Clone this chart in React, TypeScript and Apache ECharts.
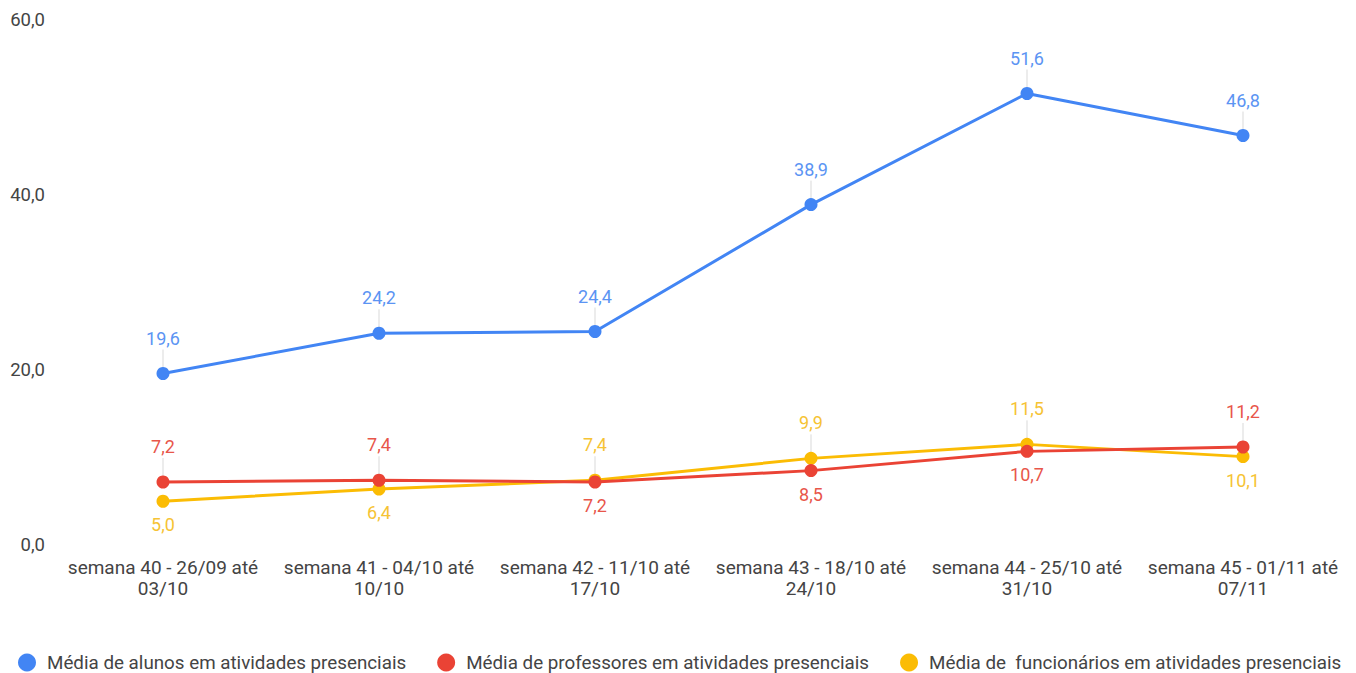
import React, { useEffect, useRef } from "react";
import * as echarts from "echarts";

const categories = [
  "semana 40 - 26/09 até\n03/10",
  "semana 41 - 04/10 até\n10/10",
  "semana 42 - 11/10 até\n17/10",
  "semana 43 - 18/10 até\n24/10",
  "semana 44 - 25/10 até\n31/10",
  "semana 45 - 01/11 até\n07/11",
];
const alunos = [19.6, 24.2, 24.4, 38.9, 51.6, 46.8];
const professores = [7.2, 7.4, 7.2, 8.5, 10.7, 11.2];
const funcionarios = [5.0, 6.4, 7.4, 9.9, 11.5, 10.1];
const alunosPos = ["top", "top", "top", "top", "top", "top"];
const professoresPos = ["top", "top", "bottom", "bottom", "bottom", "top"];
const funcionariosPos = ["bottom", "bottom", "top", "top", "top", "bottom"];
const seriesNames = [
  "Média de alunos em atividades presenciais",
  "Média de professores em atividades presenciais",
  "Média de  funcionários em atividades presenciais",
];
const colors = ["#4285F4", "#EA4335", "#FBBC04"];
const labelColors = ["#5B94F3", "#E8564A", "#F6C334"];

const fmt = (v: number) => v.toFixed(1).replace(".", ",");

export default function App() {
  const ref = useRef<HTMLDivElement>(null);
  useEffect(() => {
    if (!ref.current) return;
    const chart = echarts.init(ref.current, undefined, { renderer: "svg" });
    const allValues = [alunos, professores, funcionarios];
    const allPos = [alunosPos, professoresPos, funcionariosPos];
    const mk = (idx: number) => ({
      name: seriesNames[idx],
      type: "line",
      data: allValues[idx].map((v, i) => {
        const p = allPos[idx][i];
        return {
          value: v,
          label: {
            position: p,
            distance: p === "top" ? 20 : 8,
          },
        };
      }),
      symbol: "circle",
      symbolSize: 13,
      lineStyle: { width: 3, color: colors[idx] },
      itemStyle: { color: colors[idx] },
      label: {
        show: true,
        color: labelColors[idx],
        fontSize: 18,
        fontFamily: "Roboto",
        formatter: (p: any) => fmt(p.value),
      },
      z: 3 - idx,
    });
    // leader lines for labels placed above points
    const leaderData: number[][] = [];
    allValues.forEach((vals, s) =>
      vals.forEach((v, i) => {
        if (allPos[s][i] === "top") leaderData.push([i, v]);
      })
    );
    const leaders = {
      type: "custom",
      silent: true,
      z: 1,
      data: leaderData,
      renderItem: (params: any, api: any) => {
        const pt = api.coord([api.value(0), api.value(1)]);
        return {
          type: "line",
          shape: { x1: pt[0], y1: pt[1] - 6, x2: pt[0], y2: pt[1] - 24 },
          style: { stroke: "#d9d9d9", lineWidth: 1 },
        };
      },
    };
    chart.setOption({
      animation: false,
      color: colors,
      grid: { left: 55, right: 5, top: 20, bottom: 128 },
      legend: {
        top: 653,
        left: 18,
        width: 1338,
        padding: 0,
        icon: "circle",
        itemWidth: 30,
        itemHeight: 18,
        itemGap: 31,
        textStyle: {
          fontSize: 18.8,
          color: "#444",
          fontFamily: "Roboto",
        },
        data: seriesNames,
      },
      xAxis: {
        type: "category",
        data: categories,
        boundaryGap: true,
        axisLine: { show: false },
        axisTick: { show: false },
        axisLabel: {
          interval: 0,
          margin: 12,
          fontSize: 19,
          lineHeight: 21,
          color: "#444",
          fontFamily: "Roboto",
        },
      },
      yAxis: {
        type: "value",
        min: 0,
        max: 60,
        interval: 20,
        splitLine: { show: false },
        axisLine: { show: false },
        axisTick: { show: false },
        axisLabel: {
          margin: 10,
          fontSize: 18.5,
          color: "#444",
          fontFamily: "Roboto",
          formatter: (v: number) => fmt(v),
        },
      },
      series: [leaders, mk(0), mk(1), mk(2)],
    });
    return () => chart.dispose();
  }, []);
  return (
    <div
      ref={ref}
      style={{ position: "fixed", left: 0, top: 0, width: 1356, height: 673, background: "#fff" }}
    />
  );
}
